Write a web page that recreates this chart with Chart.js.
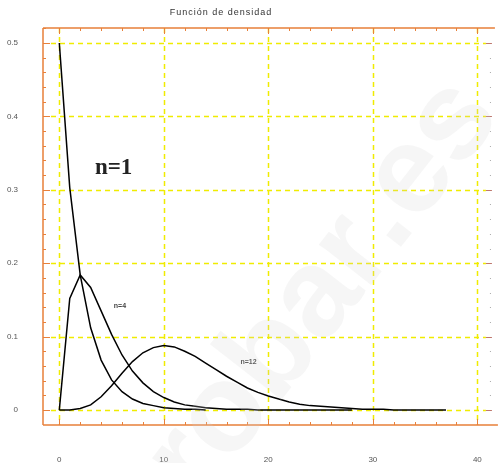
<!DOCTYPE html>
<html>
<head>
<meta charset="utf-8">
<script src="https://cdn.jsdelivr.net/npm/chart.js@4"></script>
<style>
  html, body { margin: 0; padding: 0; background: #fff; }
  canvas { display: block; }
</style>
</head>
<body>
<canvas id="c" width="504" height="463"></canvas>
<script>
// values, one point per unit of x
const xValues = [0,1,2,3,4,5,6,7,8,9,10,11,12,13,14,15,16,17,18,19,20,21,22,23,24,25,26,27,28,29,30,31,32,33,34,35,36,37];
const n1Values = [0.5,0.303,0.184,0.112,0.068,0.041,0.025,0.015,0.009,0.006,0.003,0.002,0.001,0.001,0];
const n4Values = [0,0.152,0.184,0.167,0.135,0.103,0.075,0.053,0.037,0.025,0.017,0.011,0.007,0.005,0.003,0.002,0.001,0.001,0.001,0,0,0,0,0,0,0,0,0,0];
const n12Values = [0,0,0.002,0.007,0.018,0.033,0.050,0.066,0.078,0.085,0.088,0.086,0.080,0.073,0.064,0.055,0.046,0.038,0.030,0.024,0.019,0.015,0.011,0.008,0.006,0.005,0.004,0.003,0.002,0.001,0.001,0.001,0,0,0,0,0,0];
const xTicks = [0,10,20,30,40];
const yTicks = [0,0.1,0.2,0.3,0.4,0.5];

const curveLabels = [
  { text: 'n=1', x: 5.2, y: 0.329, font: 'bold 23px "Liberation Serif"', color: '#222' },
  { text: 'n=4', x: 5.8, y: 0.141, font: 'bold 7px "Liberation Sans"', color: '#444' },
  { text: 'n=12', x: 18.1, y: 0.065, font: 'bold 7px "Liberation Sans"', color: '#444' }
];

const toPoints = vals => vals.map((v, i) => ({ x: xValues[i], y: v }));

const orange = 'rgb(232,128,58)';
const yellow = 'rgb(240,236,0)';

// frame, grid and ticks drawn from the scales
const framePlugin = {
  id: 'frame',
  beforeDatasetsDraw(chart) {
    const { ctx, chartArea: a, scales: { x, y } } = chart;
    ctx.save();
    ctx.strokeStyle = yellow;
    ctx.lineWidth = 1.5;
    ctx.setLineDash([5, 4]);
    xTicks.forEach(v => {
      const px = Math.round(x.getPixelForValue(v)) + 0.5;
      ctx.beginPath(); ctx.moveTo(px, a.top); ctx.lineTo(px, a.bottom); ctx.stroke();
    });
    yTicks.forEach(v => {
      const py = Math.round(y.getPixelForValue(v)) + 0.5;
      ctx.beginPath(); ctx.moveTo(a.left + 8, py); ctx.lineTo(a.right - 5, py); ctx.stroke();
    });
    ctx.setLineDash([]);

    // orange frame lines
    ctx.strokeStyle = orange;
    ctx.lineWidth = 1.5;
    ctx.beginPath();
    ctx.moveTo(a.left, a.top); ctx.lineTo(a.right + 4, a.top);
    ctx.moveTo(a.left, a.bottom); ctx.lineTo(a.right + 7, a.bottom);
    ctx.moveTo(a.left, a.top); ctx.lineTo(a.left, a.bottom);
    ctx.stroke();

    ctx.lineWidth = 1;
    for (let v = 0; v <= 40; v += 2) {
      const px = Math.round(x.getPixelForValue(v)) + 0.5;
      const len = v % 10 === 0 ? 6 : 3;
      ctx.beginPath();
      ctx.moveTo(px, a.top); ctx.lineTo(px, a.top + len);
      ctx.moveTo(px, a.bottom); ctx.lineTo(px, a.bottom - len);
      ctx.stroke();
    }
    for (let i = 0; i <= 26; i++) {
      const py = Math.round(y.getPixelForValue(i * 0.02)) + 0.5;
      if (py < a.top || py > a.bottom) continue;
      const len = i % 5 === 0 ? 7 : 3;
      ctx.beginPath(); ctx.moveTo(a.left, py); ctx.lineTo(a.left + len, py); ctx.stroke();
    }

    // right side marks
    for (let i = 0; i <= 25; i++) {
      const py = Math.round(y.getPixelForValue(i * 0.02)) + 0.5;
      if (i % 5 === 0) {
        ctx.strokeStyle = 'rgb(190,120,110)';
        ctx.beginPath(); ctx.moveTo(a.right - 5, py); ctx.lineTo(a.right + 1, py); ctx.stroke();
      } else {
        ctx.fillStyle = '#aaa';
        ctx.fillRect(a.right - 1, py - 0.5, 1, 1);
      }
    }
    ctx.restore();
  },
  afterDatasetsDraw(chart) {
    const { ctx, scales: { x, y } } = chart;
    ctx.save();
    ctx.textAlign = 'center';
    ctx.textBaseline = 'middle';
    curveLabels.forEach(l => {
      ctx.font = l.font;
      ctx.fillStyle = l.color;
      ctx.fillText(l.text, x.getPixelForValue(l.x), y.getPixelForValue(l.y));
    });
    ctx.font = '9px "Liberation Sans"';
    ctx.fillStyle = '#333';
    ctx.letterSpacing = '1px';
    ctx.fillText('Función de densidad', 221, 13);
    ctx.letterSpacing = '0px';

    // faint watermark
    ctx.translate(372, 235);
    ctx.rotate(-52 * Math.PI / 180);
    ctx.font = 'bold 125px "Liberation Sans"';
    ctx.fillStyle = 'rgba(210,210,210,0.2)';
    ctx.textAlign = 'right';
    ctx.textBaseline = 'alphabetic';
    ctx.fillText('probar', 0, 30);
    ctx.textAlign = 'left';
    ctx.fillText('.es', 0, 30);
    ctx.restore();
  }
};

const lineStyle = { borderColor: '#000', borderWidth: 1.5, pointRadius: 0, tension: 0, fill: false };

new Chart(document.getElementById('c'), {
  type: 'line',
  data: {
    datasets: [
      { label: 'n=1', data: toPoints(n1Values), ...lineStyle },
      { label: 'n=4', data: toPoints(n4Values), ...lineStyle },
      { label: 'n=12', data: toPoints(n12Values), ...lineStyle }
    ]
  },
  options: {
    responsive: false,
    animation: false,
    layout: { padding: { top: 28, right: 7, left: 0, bottom: 0 } },
    plugins: { legend: { display: false }, tooltip: { enabled: false }, title: { display: false } },
    scales: {
      x: {
        type: 'linear',
        min: -1.56,
        max: 41.3,
        afterFit: s => { s.height = 38; },
        afterBuildTicks: s => { s.ticks = xTicks.map(v => ({ value: v })); },
        grid: { display: false },
        border: { display: false },
        ticks: { padding: 22, color: '#555', font: { family: 'Liberation Sans', size: 8 }, callback: v => String(v) }
      },
      y: {
        type: 'linear',
        min: -0.0204,
        max: 0.5204,
        afterFit: s => { s.width = 43; },
        afterBuildTicks: s => { s.ticks = yTicks.map(v => ({ value: v })); },
        grid: { display: false },
        border: { display: false },
        ticks: { padding: 17, color: '#555', font: { family: 'Liberation Sans', size: 8 }, callback: v => String(Math.round(v * 10) / 10) }
      }
    }
  },
  plugins: [framePlugin]
});
</script>
</body>
</html>
